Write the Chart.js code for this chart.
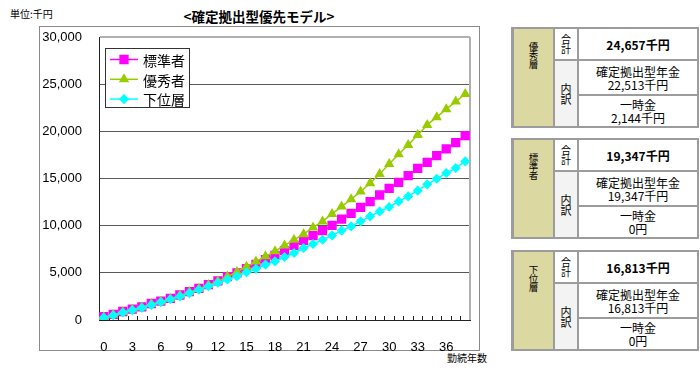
<!DOCTYPE html>
<html>
<head>
<meta charset="utf-8">
<script src="https://cdn.jsdelivr.net/npm/chart.js@4"></script>
<style>
  html, body { margin: 0; padding: 0; background: #fff; }
  body { width: 700px; height: 372px; position: relative; overflow: hidden;
         font-family: "Noto Sans CJK JP", sans-serif; color: #000; }
  #frame { position: absolute; left: 39px; top: 26px; width: 441px; height: 325px;
           box-sizing: border-box; border: 1px solid #8a8a8a; background: #fff; }
  #wrap { position: absolute; left: 0; top: 0; width: 480px; height: 372px; }
  .unit { position: absolute; left: 10px; top: 8px; font-size: 10px; line-height: 12px; }
  .title { position: absolute; left: 0; width: 518px; top: 8px; text-align: center;
           font-size: 13.5px; font-weight: bold; line-height: 16px; }
  .xname { position: absolute; left: 447px; top: 352px; font-size: 10px; line-height: 12px; }
  .tbl { position: absolute; left: 511px; width: 188px; height: 101px; box-sizing: border-box;
         background: #9c9c9c; padding: 2px 2px 2px 3px; display: grid;
         grid-template-columns: 39px 22px 1fr; grid-template-rows: 30px 33px 30px; gap: 2px; }
  .tbl > div { background: #fff; display: flex; flex-direction: column; align-items: center;
               justify-content: center; text-align: center; overflow: hidden; }
  .tbl > div > span { display: block; white-space: nowrap; }
  .tbl .tier { grid-row: 1 / 4; background: #dcd8a2; justify-content: flex-start; padding-top: 13px;
               box-sizing: border-box; }
  .tbl .tier span { font-size: 9.5px; line-height: 9.5px; height: 9px; }
  .tbl .head span { font-size: 10px; line-height: 10px; height: 10px; }
  .tbl .sub { grid-row: 2 / 4; background: #f3f3f3; }
  .tbl .sub span { font-size: 11px; line-height: 11px; height: 11px; }
  .tbl .total span { font-size: 12px; font-weight: bold; }
  .tbl .pair span { font-size: 12px; line-height: 13px; }
</style>
</head>
<body>
<div id="frame"></div>
<div class="unit">単位:千円</div>
<div class="title">&lt;確定拠出型優先モデル&gt;</div>
<div class="xname">勤続年数</div>
<div id="wrap"><canvas id="chart"></canvas></div>

<script>
// years of service (category axis)
const yearLabels = ["0","1","2","3","4","5","6","7","8","9","10","11","12","13","14","15","16","17","18","19",
  "20","21","22","23","24","25","26","27","28","29","30","31","32","33","34","35","36","37","38"];

const seriesNames = ["標準者", "優秀者", "下位層"];

// accumulated amount, 千円
const standardValues = [350, 600, 900, 1150, 1400, 1750, 2000, 2300, 2650, 3000,
  3350, 3750, 4150, 4600, 5000, 5450, 5900, 6400, 6850, 7350,
  7900, 8450, 8950, 9480, 10030, 10700, 11300, 11940, 12540, 13250,
  13960, 14600, 15300, 16080, 16720, 17420, 18130, 18800, 19550];
const excellentValues = [300, 550, 850, 1100, 1350, 1700, 1950, 2250, 2600, 2950,
  3300, 3700, 4100, 4600, 5100, 5650, 6200, 6750, 7300, 7900,
  8500, 9100, 9800, 10450, 11250, 12020, 12800, 13610, 14500, 15480,
  16540, 17570, 18560, 19620, 20680, 21500, 22350, 23150, 23960];
const lowerValues = [250, 500, 800, 1050, 1300, 1600, 1900, 2200, 2500, 2850,
  3200, 3580, 3950, 4290, 4640, 5060, 5420, 5870, 6220, 6680,
  7100, 7630, 8060, 8510, 8970, 9480, 9930, 10460, 10990, 11510,
  11980, 12570, 13100, 13710, 14380, 14970, 15580, 16110, 16810];

const yTicks = [0, 5000, 10000, 15000, 20000, 25000, 30000];

// side tables
const tierNames = ["優秀層", "標準者", "下位層"];
const tierTotals = ["24,657千円", "19,347千円", "16,813千円"];
const tierPensions = ["22,513千円", "19,347千円", "16,813千円"];
const tierLumpSums = ["2,144千円", "0円", "0円"];

const spans = (parts) => parts.map((p) => "<span>" + p + "</span>").join("");

const tableTops = [27, 138, 250];
tierNames.forEach((name, i) => {
  const t = document.createElement("div");
  t.className = "tbl";
  t.style.top = tableTops[i] + "px";
  t.innerHTML =
    '<div class="tier">' + spans(name.split("")) + "</div>" +
    '<div class="head">' + spans(["合", "計"]) + "</div>" +
    '<div class="total">' + spans([tierTotals[i]]) + "</div>" +
    '<div class="sub">' + spans(["内", "訳"]) + "</div>" +
    '<div class="pair">' + spans(["確定拠出型年金", tierPensions[i]]) + "</div>" +
    '<div class="pair">' + spans(["一時金", tierLumpSums[i]]) + "</div>";
  document.body.appendChild(t);
});

Chart.defaults.font.family = '"Liberation Sans", "Noto Sans CJK JP", sans-serif';
Chart.defaults.color = "#000";

// inner tick marks, plot border and the boxed legend inside the plot
const decor = {
  id: "decor",
  beforeDatasetsDraw(chart) {
    const { ctx, chartArea: a } = chart;
    const x = chart.scales.x;
    const step = x.getPixelForValue(1) - x.getPixelForValue(0);
    ctx.save();
    ctx.strokeStyle = "#222";
    ctx.lineWidth = 1;
    ctx.beginPath();
    for (let i = 0; i <= yearLabels.length; i++) {
      const px = Math.round(x.getPixelForValue(0) - step / 2 + i * step) + 0.5;
      ctx.moveTo(px, a.bottom);
      ctx.lineTo(px, a.bottom - 4);
    }
    ctx.stroke();
    ctx.strokeStyle = "#b0b0b0";
    ctx.lineWidth = 2;
    ctx.beginPath();
    ctx.moveTo(a.right, a.top);
    ctx.lineTo(a.right, a.bottom);
    ctx.stroke();
    ctx.restore();
  },
  afterDraw(chart) {
    const ctx = chart.ctx;
    ctx.save();
    ctx.fillStyle = "#fff";
    ctx.fillRect(105.5, 48.5, 84, 59);
    ctx.strokeStyle = "#333";
    ctx.lineWidth = 1;
    ctx.strokeRect(105.5, 48.5, 84, 59);
    chart.data.datasets.forEach((ds, k) => {
      const y = 59.5 + k * 19.8;
      ctx.strokeStyle = ds.borderColor;
      ctx.fillStyle = ds.backgroundColor;
      ctx.lineWidth = 1.5;
      ctx.beginPath();
      ctx.moveTo(110, y);
      ctx.lineTo(138, y);
      ctx.stroke();
      Chart.helpers.drawPoint(ctx, { pointStyle: ds.pointStyle, radius: ds.pointRadius, rotation: 0, borderWidth: 1 }, 124, y);
      ctx.fillStyle = "#000";
      ctx.font = '14px "Noto Sans CJK JP"';
      ctx.textBaseline = "middle";
      ctx.fillText(ds.label, 143, y + 1);
    });
    ctx.restore();
  },
};

new Chart(document.getElementById("chart"), {
  type: "line",
  data: {
    labels: yearLabels,
    datasets: [
      { label: seriesNames[0], data: standardValues, borderColor: "#ff00ff", backgroundColor: "#ff00ff",
        pointStyle: "rect", pointRadius: 5.5, borderWidth: 1.5, order: 3 },
      { label: seriesNames[1], data: excellentValues, borderColor: "#99cc00", backgroundColor: "#99cc00",
        pointStyle: "triangle", pointRadius: 4.5, borderWidth: 1.5, order: 2 },
      { label: seriesNames[2], data: lowerValues, borderColor: "#00ffff", backgroundColor: "#00ffff",
        pointStyle: "rectRot", pointRadius: 4, borderWidth: 1.5, order: 1 },
    ],
  },
  options: {
    responsive: true,
    maintainAspectRatio: false,
    animation: false,
    events: [],
    layout: { padding: { left: 39, right: 10, top: 37, bottom: 0 } },
    elements: { line: { tension: 0 }, point: { borderWidth: 1 } },
    scales: {
      x: {
        offset: true,
        afterFit: (s) => { s.height = 52; },
        grid: { display: false },
        border: { display: true, color: "#222", width: 1 },
        ticks: {
          autoSkip: false, maxRotation: 0, padding: 12, font: { size: 13 },
          callback: (v, i) => (i % 3 === 0 ? yearLabels[i] : ""),
        },
      },
      y: {
        min: yTicks[0],
        max: yTicks[yTicks.length - 1],
        afterFit: (s) => { s.width = 60; },
        afterBuildTicks: (s) => { s.ticks = yTicks.map((v) => ({ value: v })); },
        grid: {
          drawTicks: false,
          color: (c) => (c.tick && c.tick.value === 30000 ? "#b0b0b0" : "#5a5a5a"),
          lineWidth: (c) => (c.tick && c.tick.value === 30000 ? 2 : 1),
        },
        border: { display: true, color: "#222", width: 1 },
        ticks: { padding: 17, font: { size: 13 }, callback: (v) => v.toLocaleString("en-US") },
      },
    },
    plugins: { legend: { display: false }, tooltip: { enabled: false } },
  },
  plugins: [decor],
});
</script>
</body>
</html>
